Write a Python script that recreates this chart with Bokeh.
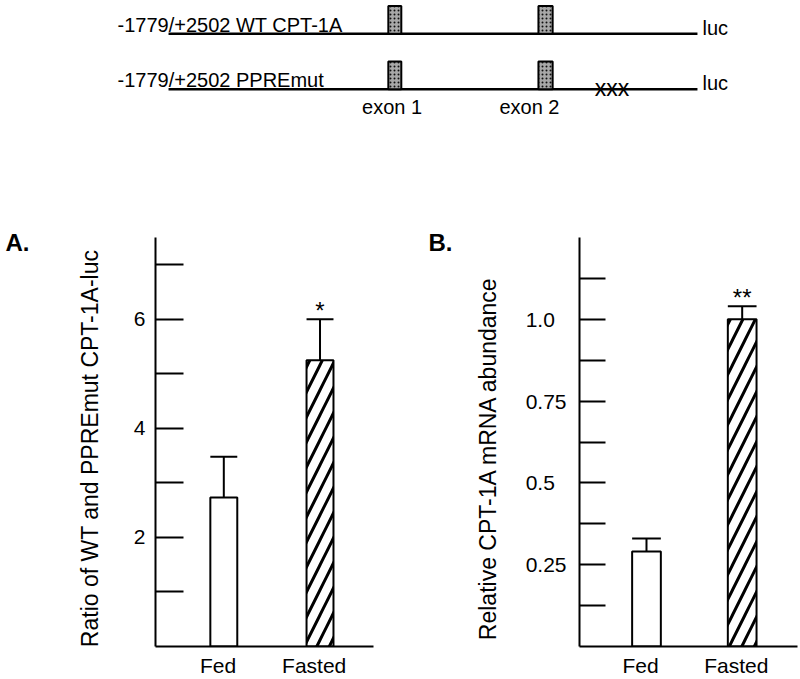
from bokeh.plotting import figure
from bokeh.models import Range1d, FixedTicker, Title, ColumnDataSource
from bokeh.layouts import column, row
from bokeh.embed import file_html
from bokeh.resources import INLINE
from bokeh.core.properties import value

FONT = "Liberation Sans"
NBSP = "\u00a0"
FSP = "\u2007"

# ---------------- data ----------------
# construct diagram (bp relative to transcription start)
construct_names = ["-1779/+2502 WT CPT-1A", "-1779/+2502 PPREmut"]
construct_start = -1779
construct_end = 2502
exon_names = ["exon 1", "exon 2"]
exon_start = [0, 1215]
exon_end = [105, 1330]
exon_label_pos = [30, 1142]
ppre_mut_pos = [1810]
reporter = "luc"

# panel A
groups = ["Fed", "Fasted"]
ratio_mean = [2.73, 5.25]
ratio_err = [0.75, 0.75]
ratio_sig = ["", "*"]
ratio_ticks = [1, 2, 3, 4, 5, 6, 7]
ratio_tick_labels = {2: "2", 4: "4", 6: "6"}
ratio_title = "Ratio of WT and PPREmut CPT-1A-luc"

# panel B
mrna_mean = [0.29, 1.0]
mrna_err = [0.04, 0.04]
mrna_sig = ["", "**"]
mrna_ticks = [0.125, 0.25, 0.375, 0.5, 0.625, 0.75, 0.875, 1.0, 1.125]
mrna_tick_labels = {0.25: "0.25", 0.5: "0.5", 0.75: "0.75", 1.0: "1.0"}
mrna_title = "Relative CPT-1A mRNA abundance"

# ---------------- construct diagram ----------------
top = figure(width=800, height=140, x_range=Range1d(-3139, 3336),
             y_range=Range1d(1.921, -0.597), x_axis_type=None, y_axis_type=None,
             toolbar_location=None, output_backend="svg", min_border=0,
             outline_line_color=None)
rows_idx = list(range(len(construct_names)))
top.segment(x0=[construct_start] * len(rows_idx), x1=[construct_end] * len(rows_idx),
            y0=rows_idx, y1=rows_idx, line_width=2.5, line_color="black")
ex_l, ex_r, ex_row = [], [], []
for r in rows_idx:
    for s, e in zip(exon_start, exon_end):
        ex_l.append(s); ex_r.append(e); ex_row.append(r)
top.quad(left=ex_l, right=ex_r, bottom=ex_row, top=[r - 0.5 for r in ex_row],
         fill_color="#a8a8a8", line_color="black", line_width=2,
         hatch_pattern="dot", hatch_color="#101010", hatch_scale=4, hatch_weight=1.5)
txt = dict(text_font=value(FONT), text_color="black", text_baseline="alphabetic")
top.text(x=[construct_start] * len(rows_idx), y=rows_idx, text=construct_names,
         x_offset=-51, y_offset=-9, text_align="left", text_font_size="20px", **txt)
top.text(x=[construct_end] * len(rows_idx), y=rows_idx, text=[reporter] * len(rows_idx),
         x_offset=5, y_offset=-6, text_align="left", text_font_size="20px", **txt)
top.text(x=exon_label_pos, y=[1] * len(exon_label_pos), text=exon_names,
         y_offset=18, text_align="center", text_font_size="20px", **txt)
top.text(x=ppre_mut_pos, y=[1], text=["xxx"], y_offset=-1, text_align="center",
         text_font_size="23px", **txt)


def panel(means, errs, sigs, ticks, tick_labels, title, title_pad, letter,
          x_start, x_end, y_end, left_border, right_border, bar_width,
          tick_len, label_standoff, title_standoff, letter_offset):
    p = figure(width=400, height=539, x_range=Range1d(x_start, x_end),
               y_range=Range1d(0, y_end), toolbar_location=None,
               output_backend="svg", min_border_left=left_border,
               min_border_right=right_border, min_border_top=97,
               min_border_bottom=33, outline_line_color=None)
    p.grid.visible = False
    xs = list(range(1, len(groups) + 1))
    src = ColumnDataSource(dict(
        x=xs, top=means, hatch=["blank", "right_diagonal_line"],
        etop=[m + e for m, e in zip(means, errs)],
        cl=[x - bar_width / 2 for x in xs], cr=[x + bar_width / 2 for x in xs],
        sig=sigs))
    p.vbar(x="x", top="top", bottom=0, width=bar_width, source=src,
           fill_color="white", line_color="black", line_width=2,
           hatch_pattern="hatch", hatch_color="black", hatch_scale=25,
           hatch_weight=3)
    p.segment(x0="x", x1="x", y0="top", y1="etop", source=src,
              line_color="black", line_width=2)
    p.segment(x0="cl", x1="cr", y0="etop", y1="etop", source=src,
              line_color="black", line_width=2)
    p.text(x="x", y="etop", text="sig", source=src, y_offset=-9,
           text_align="center", text_font_size="24px", **txt)

    for ax in (p.xaxis, p.yaxis):
        ax.axis_line_width = 2
        ax.axis_line_color = "black"
        ax.minor_tick_line_color = None
        ax.major_tick_out = 0
        ax.major_label_text_font = FONT
        ax.major_label_text_font_size = "21px"
        ax.major_label_text_color = "black"
    # categories
    p.xaxis.ticker = FixedTicker(ticks=xs)
    p.xaxis.major_label_overrides = {x: g + NBSP * 2 for x, g in zip(xs, groups)}
    p.xaxis.major_tick_in = 0
    p.xaxis.major_tick_line_color = None
    p.xaxis.major_label_standoff = 7
    # values
    p.yaxis.ticker = FixedTicker(ticks=ticks)
    width = max(len(v) for v in tick_labels.values())
    p.yaxis.major_label_overrides = {
        t: (tick_labels[t] + FSP * (width - len(tick_labels[t])) if t in tick_labels else "")
        for t in ticks}
    p.yaxis.major_tick_in = tick_len
    p.yaxis.major_tick_line_width = 2
    p.yaxis.major_tick_line_color = "black"
    p.yaxis.major_label_standoff = label_standoff
    p.yaxis.axis_label = title + NBSP * title_pad
    p.yaxis.axis_label_standoff = title_standoff
    p.yaxis.axis_label_text_font = FONT
    p.yaxis.axis_label_text_font_size = "23px"
    p.yaxis.axis_label_text_font_style = "normal"
    p.yaxis.axis_label_text_color = "black"

    p.add_layout(Title(text=letter, align="left", offset=letter_offset, standoff=-36,
                       text_font=FONT, text_font_size="24px", text_font_style="bold",
                       text_color="black"), "above")
    return p


pA = panel(ratio_mean, ratio_err, ratio_sig, ratio_ticks, ratio_tick_labels,
           ratio_title, 2, "A.", 0.29, 2.556, 7.5, 155, 27, 0.28, 28, 10, 28, -150)
pB = panel(mrna_mean, mrna_err, mrna_sig, mrna_ticks, mrna_tick_labels,
           mrna_title, 5, "B.", 0.30, 2.578, 1.25, 179, 3, 0.30, 26, 13, 22, -151)

layout = column(top, row(pA, pB))
open("out.html", "w").write(file_html(layout, INLINE))
